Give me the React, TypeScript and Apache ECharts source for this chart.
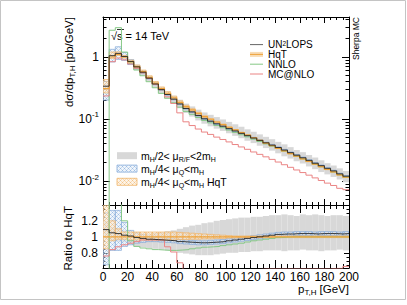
import React, { useEffect, useRef } from 'react';
import * as echarts from 'echarts';

// ---------------- data ----------------
const binLow = [0, 5, 10, 15, 20, 25, 30, 35, 40, 45, 50, 55, 60, 65, 70, 75, 80, 85, 90, 95,
  100, 105, 110, 115, 120, 125, 130, 135, 140, 145, 150, 155, 160, 165, 170, 175, 180, 185, 190, 195];
const binWidth = 5;

// HqT central prediction, pb/GeV
const hqt = [0.31, 1.0, 1.1, 1.0, 0.84, 0.70, 0.58, 0.47, 0.38, 0.31, 0.26, 0.22, 0.186, 0.158, 0.14, 0.123, 0.109, 0.099,
  0.0895, 0.0813, 0.0736, 0.0668, 0.0605, 0.0550, 0.0498, 0.0452, 0.0409, 0.0372, 0.0337, 0.0305,
  0.0277, 0.0251, 0.0228, 0.0207, 0.0187, 0.0170, 0.0154, 0.0140, 0.0126, 0.0115];

// ratios to HqT
const ratioUnlops = [1.09, 1.05, 1.04, 1.02, 1.01, 0.99, 0.98, 0.97, 0.965, 0.96, 0.955, 0.95, 0.94, 0.935, 0.93, 0.925,
  0.925, 0.93, 0.935, 0.94, 0.95, 0.96, 0.97, 0.98, 0.99, 1.0, 1.01, 1.02, 1.03, 1.035, 1.035, 1.04, 1.04, 1.04,
  1.035, 1.04, 1.04, 1.04, 1.035, 1.04];
const ratioNnlo = [-0.5, 2.7, 2.7, 1.2, 0.95, 0.88, 0.86, 0.85, 0.84, 0.835, 0.83, 0.83, 0.835, 0.84, 0.85, 0.86, 0.87,
  0.875, 0.88, 0.89, 0.9, 0.91, 0.92, 0.935, 0.95, 0.96, 0.97, 0.98, 0.99, 0.995, 1.0, 1.0, 1.0, 1.0, 1.0, 1.0,
  1.0, 1.0, 1.0, 1.0];
const ratioMcnlo = [0.76, 0.84, 0.875, 0.9, 0.92, 0.94, 0.96, 0.96, 0.96, 0.96, 0.875, 0.81, 0.675, 0.57, 0.56, 0.56,
  0.565, 0.57, 0.57, 0.575, 0.58, 0.58, 0.585, 0.59, 0.59, 0.595, 0.6, 0.6, 0.6, 0.6, 0.6, 0.6, 0.6, 0.6, 0.6,
  0.6, 0.6, 0.605, 0.605, 0.63];

// UN2LOPS mu_R/F band (ratio to HqT)
const scaleLo = [0.98, 0.95, 0.94, 0.93, 0.9, 0.88, 0.87, 0.86, 0.85, 0.84, 0.83, 0.82, 0.8, 0.79, 0.78, 0.77, 0.77,
  0.77, 0.78, 0.79, 0.8, 0.8, 0.81, 0.81, 0.82, 0.82, 0.83, 0.83, 0.83, 0.82, 0.83, 0.83, 0.84, 0.83, 0.83, 0.82,
  0.83, 0.83, 0.84, 0.83];
const scaleHi = [1.2, 1.12, 1.1, 1.08, 1.06, 1.05, 1.04, 1.04, 1.05, 1.06, 1.07, 1.08, 1.1, 1.12, 1.14, 1.15, 1.17,
  1.18, 1.2, 1.21, 1.22, 1.23, 1.24, 1.24, 1.25, 1.25, 1.26, 1.27, 1.27, 1.28, 1.27, 1.26, 1.28, 1.27, 1.28, 1.27,
  1.26, 1.27, 1.27, 1.26];
// UN2LOPS mu_Q band
const muQLo = [0.65, 0.83, 0.83, 0.88, 0.9, 0.92, 0.93, 0.94, 0.94, 0.935, 0.93, 0.925, 0.915, 0.91, 0.905, 0.9,
  0.9, 0.905, 0.91, 0.915, 0.925, 0.935, 0.945, 0.955, 0.965, 0.975, 0.985, 0.995, 1.005, 1.01, 1.01, 1.015, 1.015,
  1.015, 1.01, 1.015, 1.015, 1.015, 1.01, 1.015];
const muQHi = [1.3, 1.33, 1.33, 1.18, 1.08, 1.05, 1.03, 1.0, 0.99, 0.985, 0.98, 0.975, 0.965, 0.96, 0.955, 0.95, 0.95,
  0.955, 0.96, 0.965, 0.975, 0.985, 0.995, 1.005, 1.015, 1.025, 1.035, 1.045, 1.055, 1.06, 1.06, 1.065, 1.065,
  1.065, 1.06, 1.065, 1.065, 1.065, 1.06, 1.065];
// HqT mu_Q band
const hqtQLo = [0.85, 0.95, 0.97, 0.97, 0.96, 0.96, 0.96, 0.96, 0.96, 0.96, 0.96, 0.96, 0.965, 0.965, 0.97, 0.97,
  0.975, 0.975, 0.98, 0.98, 0.985, 0.985, 0.99, 0.99, 0.99, 0.99, 0.99, 0.99, 0.99, 0.99, 0.99, 0.99, 0.99, 0.99,
  0.99, 0.99, 0.99, 0.99, 0.99, 0.99];
const hqtQHi = [1.4, 1.2, 1.1, 1.06, 1.06, 1.06, 1.06, 1.06, 1.06, 1.06, 1.06, 1.06, 1.055, 1.05, 1.045, 1.04,
  1.035, 1.03, 1.025, 1.02, 1.015, 1.01, 1.01, 1.01, 1.01, 1.01, 1.01, 1.01, 1.01, 1.01, 1.01, 1.01, 1.01, 1.01,
  1.01, 1.01, 1.01, 1.01, 1.01, 1.01];

const xTicks = [0, 20, 40, 60, 80, 100, 120, 140, 160, 180, 200];
const logDecades = [-2, -1, 0];
const ratioLabels = [0.8, 1, 1.2];

// ---------------- helpers ----------------
const FONT = '"Liberation Sans", Arial, Helvetica, sans-serif';
const logv = (v: number) => Math.log10(Math.max(v, 1e-6));

function stepPoints(vals: number[], f: (v: number, i: number) => number) {
  const pts: number[][] = [];
  vals.forEach((v, i) => {
    const y = f(v, i);
    pts.push([binLow[i], y]);
    pts.push([binLow[i] + binWidth, y]);
  });
  return pts;
}

function hatch(color: string, bg: string) {
  const c = document.createElement('canvas');
  c.width = 4; c.height = 4;
  const ctx = c.getContext('2d')!;
  ctx.fillStyle = bg;
  ctx.fillRect(0, 0, 4, 4);
  ctx.fillStyle = color;
  ctx.fillRect(0, 0, 1, 1);
  ctx.fillRect(2, 2, 1, 1);
  ctx.globalAlpha = 0.5;
  ctx.fillRect(1, 1, 1, 1);
  ctx.fillRect(3, 3, 1, 1);
  ctx.fillRect(3, 1, 1, 1);
  ctx.fillRect(1, 3, 1, 1);
  return c;
}

const C = {
  black: '#222222',
  orange: '#eea23a',
  green: '#86c886',
  red: '#ea8484',
  blue: '#86abd9',
  gray: '#d8d8d8',
};

export default function App() {
  const ref = useRef<HTMLDivElement>(null);
  useEffect(() => {
    if (!ref.current) return;
    const chart = echarts.init(ref.current, undefined, { renderer: 'svg' });
    const blueHatch = { image: hatch('#9dbde3', 'rgba(225,235,248,0.5)'), repeat: 'repeat' };
    const orangeHatch = { image: hatch('#f3c48a', 'rgba(252,232,205,0.5)'), repeat: 'repeat' };

    const band = (name: string, xi: number, yi: number, lo: number[], hi: number[], main: boolean,
      fill: any, stroke: string | null, z: number) => ({
      type: 'custom', name, xAxisIndex: xi, yAxisIndex: yi, clip: true, z,
      data: binLow.map((x, i) => main
        ? [x, x + binWidth, logv(hqt[i] * lo[i]), logv(hqt[i] * hi[i])]
        : [x, x + binWidth, lo[i], hi[i]]),
      renderItem: (params: any, api: any) => {
        const p0 = api.coord([api.value(0), api.value(3)]);
        const p1 = api.coord([api.value(1), api.value(2)]);
        return {
          type: 'rect',
          shape: { x: p0[0], y: p0[1], width: p1[0] - p0[0], height: p1[1] - p0[1] },
          style: { fill, stroke: stroke || 'none', lineWidth: stroke ? 0.7 : 0 },
        };
      },
    });
    const line = (name: string, xi: number, yi: number, data: number[][], color: string, width: number, z: number) => ({
      type: 'line', name, xAxisIndex: xi, yAxisIndex: yi, data, showSymbol: false, symbol: 'none', clip: true, z,
      lineStyle: { color, width }, emphasis: { disabled: true },
    });

    const xAx = (grid: number, pos: string, interval: number, len: number, labels: boolean, lineShow: boolean) => ({
      type: 'value', gridIndex: grid, position: pos, min: 0, max: 200, interval,
      axisLine: { show: lineShow, onZero: false, lineStyle: { color: '#000', width: 1 } },
      axisTick: { show: true, inside: true, length: len, lineStyle: { color: '#000', width: 1 } },
      axisLabel: labels ? {
        show: true, color: '#000', fontSize: 12, fontFamily: FONT, margin: 3,
        customValues: xTicks, formatter: (v: number) => String(v),
      } : { show: false },
      splitLine: { show: false },
    });

    const minorLog: number[] = [];
    for (let d = -3; d <= 0; d++) for (let k = 2; k <= 9; k++) {
      const v = d + Math.log10(k);
      if (v > -2.387 && v < 0.645) minorLog.push(v);
    }
    const minorRatio: number[] = [];
    for (let k = 13; k <= 27; k++) minorRatio.push(k * 0.05);

    const yAx = (grid: number, pos: string, min: number, max: number, ticks: number[], len: number,
      labels: any, lineShow: boolean) => ({
      type: 'value', gridIndex: grid, position: pos, min, max,
      axisLine: { show: lineShow, onZero: false, lineStyle: { color: '#000', width: 1 } },
      axisTick: { show: true, inside: true, length: len, customValues: ticks, lineStyle: { color: '#000', width: 1 } },
      axisLabel: labels || { show: false },
      splitLine: { show: false },
    });

    const logLabels = {
      show: true, color: '#000', fontFamily: FONT, margin: 4, customValues: logDecades,
      formatter: (v: number) => (Math.abs(v) < 1e-9 ? '{n|1}' : `{n|10}{s|${Math.round(v)}}`),
      rich: {
        n: { fontSize: 12, fontFamily: FONT, color: '#000', lineHeight: 16 },
        s: { fontSize: 8, fontFamily: FONT, color: '#000', lineHeight: 9, verticalAlign: 'top' },
      },
    };
    const rLabels = {
      show: true, color: '#000', fontSize: 12, fontFamily: FONT, margin: 5, customValues: ratioLabels,
      formatter: (v: number) => String(Math.round(v * 10) / 10),
    };

    const LMIN = -2.387, LMAX = 0.645, RMIN = 0.61, RMAX = 1.3975;

    const mainLines = [
      line('NNLO', 0, 0, stepPoints(ratioNnlo, (r, i) => logv(hqt[i] * r)), C.green, 1, 5),
      line('MC@NLO', 0, 0, stepPoints(ratioMcnlo, (r, i) => logv(hqt[i] * r)), C.red, 1, 5),
      line('HqT', 0, 0, stepPoints(hqt, (v) => logv(v)), C.orange, 1.2, 6),
      line('UN2LOPS', 0, 0, stepPoints(ratioUnlops, (r, i) => logv(hqt[i] * r)), C.black, 0.9, 7),
    ];
    const ratioLines = [
      line('NNLO r', 4, 4, stepPoints(ratioNnlo, (r) => r), C.green, 1, 5),
      line('MC@NLO r', 4, 4, stepPoints(ratioMcnlo, (r) => r), C.red, 1, 5),
      line('HqT r', 4, 4, stepPoints(hqt, () => 1), C.orange, 1.2, 6),
      line('UN2LOPS r', 4, 4, stepPoints(ratioUnlops, (r) => r), C.black, 0.9, 7),
    ];

    const sub = (s: number) => ({ fontSize: s, fontFamily: FONT, color: '#000', lineHeight: 7, verticalAlign: 'bottom' });
    const base = (s: number) => ({ fontSize: s, fontFamily: FONT, color: '#000', lineHeight: 15 });
    const sup = (s: number) => ({ fontSize: s, fontFamily: FONT, color: '#000', lineHeight: 5, verticalAlign: 'top' });

    const legendRows = [
      { y: 44.6, label: '{a|UN}{p|2}{a|LOPS}', color: '#666', w: 1, fillBox: false },
      { y: 54.4, label: '{a|HqT}', color: C.orange, w: 1, fillBox: true },
      { y: 64.2, label: '{a|NNLO}', color: C.green, w: 1, fillBox: false },
      { y: 74.0, label: '{a|MC@NLO}', color: C.red, w: 1, fillBox: false },
    ];
    const graphics: any[] = [
      { type: 'rect', shape: { x: 0.5, y: 0.5, width: 405, height: 299 }, style: { fill: 'none', stroke: '#c4c4c4', lineWidth: 1 }, silent: true },
      { type: 'text', x: 69, y: 17, rotation: Math.PI / 2, style: {
        text: '{a|dσ/dp}{b|T,H}{a| [pb/GeV]}', align: 'right', verticalAlign: 'middle',
        rich: { a: base(11.5), b: sub(8) } } },
      { type: 'text', x: 68, y: 206, rotation: Math.PI / 2, style: {
        text: 'Ratio to HqT', align: 'right', verticalAlign: 'middle', fontSize: 11.5, fontFamily: FONT, fill: '#000' } },
      { type: 'text', x: 349, y: 289, style: {
        text: '{a|p}{b|T,H}{a| [GeV]}', align: 'right', verticalAlign: 'middle',
        rich: { a: base(11.5), b: sub(8) } } },
      { type: 'text', x: 356, y: 17, rotation: Math.PI / 2, style: {
        text: 'Sherpa MC', align: 'right', verticalAlign: 'middle', fontSize: 8.5, fontFamily: FONT, fill: '#000' } },
      { type: 'text', x: 111, y: 36, style: {
        text: '√s = 14 TeV', align: 'left', verticalAlign: 'middle', fontSize: 11, fontFamily: FONT, fill: '#000' } },
      { type: 'line', shape: { x1: 117, y1: 29.5, x2: 124, y2: 29.5 }, style: { stroke: '#000', lineWidth: 0.8 } },
    ];
    legendRows.forEach((r) => {
      if (r.fillBox) graphics.push({ type: 'rect', shape: { x: 250, y: r.y - 2.5, width: 13, height: 5 }, style: { fill: '#f8dcb4', stroke: 'none' } });
      graphics.push({ type: 'line', shape: { x1: 250, y1: r.y, x2: 263, y2: r.y }, style: { stroke: r.color, lineWidth: r.w } });
      graphics.push({ type: 'text', x: 268, y: r.y, style: {
        text: r.label, align: 'left', verticalAlign: 'middle',
        rich: { a: { fontSize: 10, fontFamily: FONT, color: '#000', lineHeight: 8.5 }, p: { ...sup(6.5) } } } });
    });
    const lowLegend = [
      { y: 155.7, fill: C.gray, stroke: 'none', text: '{a|m}{b|H}{a|/2< μ}{b|R/F}{a|<2m}{b|H}' },
      { y: 168.6, fill: blueHatch, stroke: C.blue, text: '{a|m}{b|H}{a|/4< μ}{b|Q}{a|<m}{b|H}' },
      { y: 181.8, fill: orangeHatch, stroke: '#f0b468', text: '{a|m}{b|H}{a|/4< μ}{b|Q}{a|<m}{b|H}{a| HqT}' },
    ];
    lowLegend.forEach((r) => {
      graphics.push({ type: 'rect', shape: { x: 117, y: r.y - 3.5, width: 20, height: 7 }, style: { fill: r.fill, stroke: r.stroke, lineWidth: 0.8 } });
      graphics.push({ type: 'text', x: 141, y: r.y, style: {
        text: r.text, align: 'left', verticalAlign: 'middle', rich: { a: base(10.5), b: sub(7) } } });
    });

    chart.setOption({
      animation: false,
      grid: [
        { left: 103, top: 17, width: 246, height: 188, containLabel: false },
        { left: 103, top: 205, width: 246, height: 63, containLabel: false },
      ],
      xAxis: [
        xAx(0, 'bottom', 20, 6, false, true),
        xAx(0, 'bottom', 5, 3, false, false),
        xAx(0, 'top', 20, 6, false, true),
        xAx(0, 'top', 5, 3, false, false),
        xAx(1, 'bottom', 20, 8, true, true),
        xAx(1, 'bottom', 5, 4, false, false),
        xAx(1, 'top', 20, 8, false, true),
        xAx(1, 'top', 5, 4, false, false),
      ],
      yAxis: [
        yAx(0, 'left', LMIN, LMAX, logDecades, 7, logLabels, true),
        yAx(0, 'left', LMIN, LMAX, minorLog, 3.5, null, false),
        yAx(0, 'right', LMIN, LMAX, logDecades, 7, null, true),
        yAx(0, 'right', LMIN, LMAX, minorLog, 3.5, null, false),
        yAx(1, 'left', RMIN, RMAX, ratioLabels, 5, rLabels, true),
        yAx(1, 'left', RMIN, RMAX, minorRatio, 2.5, null, false),
        yAx(1, 'right', RMIN, RMAX, ratioLabels, 5, null, true),
        yAx(1, 'right', RMIN, RMAX, minorRatio, 2.5, null, false),
      ],
      series: [
        band('scale', 0, 0, scaleLo, scaleHi, true, C.gray, null, 1),
        band('muQ', 0, 0, muQLo, muQHi, true, blueHatch, C.blue, 2),
        band('hqtQ', 0, 0, hqtQLo, hqtQHi, true, orangeHatch, '#f0b468', 3),
        ...mainLines,
        band('scale r', 4, 4, scaleLo, scaleHi, false, C.gray, null, 1),
        band('muQ r', 4, 4, muQLo, muQHi, false, blueHatch, C.blue, 2),
        band('hqtQ r', 4, 4, hqtQLo, hqtQHi, false, orangeHatch, '#f0b468', 3),
        ...ratioLines,
      ],
      graphic: graphics,
    });
    return () => chart.dispose();
  }, []);
  return <div ref={ref} style={{ width: 407, height: 305, position: 'absolute', left: 0, top: 0 }} />;
}
